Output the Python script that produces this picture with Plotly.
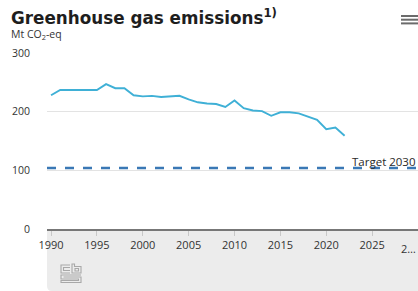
import plotly.graph_objects as go

years = list(range(1990, 2023))
emissions = [228, 237, 237, 237, 238, 237, 247, 240, 240, 228, 226, 227, 225, 226, 227,
             221, 216, 214, 213, 208, 219, 206, 202, 201, 193, 199, 199, 197, 191, 186,
             170, 173, 159]
target_value = 104
target_label = "Target 2030"
x_ticks = [1990, 1995, 2000, 2005, 2010, 2015, 2020, 2025]
y_ticks = [0, 100, 200, 300]
title_text = "Greenhouse gas emissions<sup>1)</sup>"
unit_text = "Mt CO<sub>2</sub>-eq"

W, H = 418, 291
L, R, T, B = 47, 418, 53, 229  # plot area in page pixels


def px(x):
    return (x - L) / (R - L)


def py(y):
    return (B - y) / (B - T)


FONT = "Open Sans"
fig = go.Figure()
fig.add_trace(go.Scatter(x=years, y=emissions, mode="lines",
                         line=dict(color="#3fb0d6", width=1.9),
                         hoverinfo="skip", showlegend=False))
fig.add_trace(go.Scatter(x=[1989.56, 2030], y=[target_value, target_value], mode="lines",
                         line=dict(color="#3a78b5", width=2.4, dash="dash"),
                         hoverinfo="skip", showlegend=False, cliponaxis=False))

shapes = []
r = 5
shapes.append(dict(type="path", xref="paper", yref="paper", layer="below",
                   path=f"M {px(47)} {py(229)} L {px(430)} {py(229)} L {px(430)} {py(291)} "
                        f"L {px(47 + r)} {py(291)} Q {px(47)} {py(291)} {px(47)} {py(291 - r)} Z",
                   fillcolor="#ececec", line=dict(width=0)))
for yy in (16, 19.7, 23.4):
    shapes.append(dict(type="line", xref="paper", yref="paper",
                       x0=px(401), x1=px(419), y0=py(yy), y1=py(yy),
                       line=dict(color="#6b6b6b", width=2)))
logo = "#a8a8a8"
lw = 1.1
paths = [
    f"M {px(70)} {py(265)} L {px(61)} {py(265)} L {px(61)} {py(273)} L {px(70)} {py(273)}",
    f"M {px(70)} {py(267.5)} L {px(63.5)} {py(267.5)} L {px(63.5)} {py(270.5)} L {px(70)} {py(270.5)}",
    f"M {px(72)} {py(264)} L {px(72)} {py(273)} L {px(81)} {py(273)} L {px(81)} {py(266.5)} L {px(74.5)} {py(266.5)} L {px(74.5)} {py(264)} Z",
    f"M {px(75)} {py(268.5)} L {px(78.5)} {py(268.5)} L {px(78.5)} {py(271)} L {px(75)} {py(271)} Z",
    f"M {px(81)} {py(275)} L {px(61)} {py(275)} L {px(61)} {py(279)} L {px(78.5)} {py(279)} L {px(78.5)} {py(280.5)} L {px(61)} {py(280.5)} L {px(61)} {py(282.5)} L {px(81)} {py(282.5)} L {px(81)} {py(277)} L {px(63.5)} {py(277)}",
]
for p in paths:
    shapes.append(dict(type="path", xref="paper", yref="paper", path=p,
                       line=dict(color=logo, width=lw)))

annotations = [
    dict(text=title_text, xref="paper", yref="paper", x=px(9), y=py(17),
         xanchor="left", yanchor="middle", showarrow=False,
         font=dict(family="DejaVu Sans", size=16.8, color="#1e1e1e", weight="bold")),
    dict(text=unit_text, xref="paper", yref="paper", x=px(9), y=py(34.5),
         xanchor="left", yanchor="middle", showarrow=False,
         font=dict(family=FONT, size=10.5, color="#333333")),
    dict(text=target_label, xref="paper", yref="paper", x=1.0, y=py(161),
         xanchor="right", yanchor="middle", showarrow=False,
         font=dict(family=FONT, size=11.5, color="#2a2a2a")),
    dict(text="2…", xref="paper", yref="paper", x=1.0, y=py(249),
         xanchor="right", yanchor="middle", showarrow=False,
         font=dict(family=FONT, size=11, color="#333333")),
]

fig.update_layout(
    width=W, height=H,
    margin=dict(l=L, r=W - R, t=T, b=H - B, pad=0),
    paper_bgcolor="white", plot_bgcolor="white",
    font=dict(family=FONT, size=11, color="#333333"),
    shapes=shapes, annotations=annotations,
    xaxis=dict(range=[1989.56, 2030], tickvals=x_ticks, ticktext=[str(v) for v in x_ticks],
               showgrid=False, zeroline=False, showline=True, linecolor="#777777", linewidth=1.5,
               ticks="outside", ticklen=5, tickcolor="#c8c8c8", tickwidth=1,
               tickfont=dict(family=FONT, size=11, color="#333333"), fixedrange=True),
    yaxis=dict(range=[0, 300], tickvals=y_ticks, showgrid=True, gridcolor="#e3e3e3", gridwidth=1,
               zeroline=False, showline=False, ticks="outside", ticklen=14,
               tickcolor="rgba(0,0,0,0)",
               tickfont=dict(family=FONT, size=10.5, color="#333333"), fixedrange=True),
)

fig.write_html("out.html", config={"displayModeBar": False},
               post_script="document.body.style.margin='0';document.body.style.overflow='hidden';")
